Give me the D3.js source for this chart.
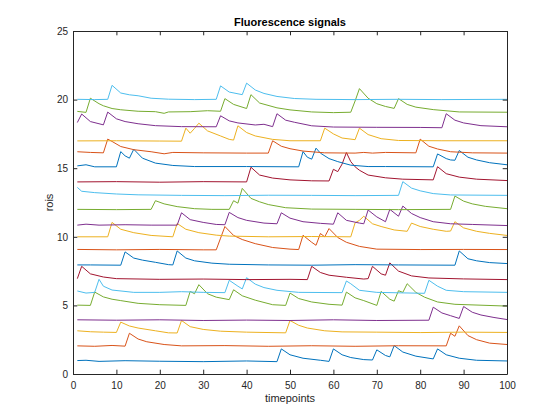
<!DOCTYPE html>
<html>
<head>
<meta charset="utf-8">
<script src="https://cdn.jsdelivr.net/npm/d3@7"></script>
<style>
  html, body { margin: 0; padding: 0; background: #fff; }
  svg { display: block; font-family: "Liberation Sans", Arial, Helvetica, sans-serif; }
</style>
</head>
<body>
<div id="chart"></div>
<script>
// Fluorescence traces, one per roi, as [timepoint, value] points
var roi1 = [[1,0.98],[3,1.0],[6,0.92],[12,0.97],[20,0.93],[30,0.9],[40,0.95],[47,0.9],[48,1.83],[50,1.4],[53,1.15],[57,1.0],[59,0.92],[60,1.83],[62,1.4],[64,1.2],[67,1.05],[69,1.02],[70,1.76],[72,1.35],[73,1.25],[74,2.07],[76,1.6],[79,1.3],[83,1.1],[84,1.83],[86,1.4],[89,1.15],[93,1.0],[100,0.95]];
var roi2 = [[1,2.05],[5,2.02],[9,2.08],[12,2.03],[13,2.97],[15,2.55],[17,2.35],[21,2.15],[25,2.05],[35,2.07],[45,2.02],[55,2.06],[65,2.02],[75,2.06],[86,2.05],[87,2.97],[88,2.75],[89,3.51],[91,2.8],[93,2.5],[96,2.25],[100,2.15]];
var roi3 = [[1,3.15],[4,3.08],[7,3.05],[10,3.03],[11,3.78],[13,3.5],[15,3.35],[19,3.15],[22,3.0],[24,2.99],[25,3.9],[27,3.45],[30,3.25],[34,3.12],[40,3.05],[49,3.0],[50,3.9],[52,3.55],[54,3.35],[58,3.15],[62,3.07],[70,3.05],[80,3.02],[90,3.05],[100,3.03]];
var roi4 = [[1,3.95],[10,3.92],[20,3.95],[30,3.9],[40,3.93],[50,3.9],[60,3.95],[70,3.9],[82,3.92],[83,4.87],[85,4.45],[87,4.25],[89,4.05],[90,4.92],[92,4.5],[94,4.3],[97,4.12],[100,3.97]];
var roi5 = [[1,5.02],[4,5.0],[5,5.97],[7,5.62],[9,5.45],[11,5.35],[15,5.15],[20,5.05],[26,5.0],[27,6.02],[28,5.85],[29,6.51],[31,5.85],[33,5.6],[36,5.42],[37,6.14],[39,5.7],[42,5.38],[46,5.05],[49,5.0],[50,5.9],[52,5.5],[55,5.25],[59,5.08],[62,5.02],[63,5.97],[65,5.55],[67,5.35],[70,5.0],[71,6.02],[73,5.45],[74,5.31],[75,6.07],[76,5.95],[77,6.58],[79,5.95],[81,5.6],[84,5.25],[88,5.08],[100,4.95]];
var roi6 = [[1,6.05],[3,5.9],[5,5.95],[6,6.9],[7,6.4],[9,6.12],[14,5.95],[20,5.95],[25,6.0],[30,5.95],[35,5.93],[36,6.83],[38,6.4],[39,6.2],[40,7.02],[42,6.55],[44,6.3],[47,6.1],[52,5.95],[62,5.93],[63,6.78],[64,6.58],[66,6.1],[70,5.95],[81,5.88],[82,6.83],[84,6.4],[86,6.1],[90,6.0],[100,5.95]];
var roi7 = [[1,6.95],[2,7.85],[4,7.3],[7,7.07],[10,6.95],[20,6.9],[30,6.92],[40,6.88],[50,6.9],[54,6.88],[55,7.85],[57,7.4],[59,7.2],[63,7.05],[67,6.92],[68,6.95],[69,7.85],[71,7.3],[72,7.2],[73,8.1],[75,7.5],[78,7.15],[82,7.0],[90,6.93],[100,6.88]];
var roi8 = [[1,7.95],[4,7.95],[11,7.93],[12,8.9],[14,8.45],[16,8.3],[19,8.14],[22,7.97],[23,7.95],[24,8.97],[26,8.45],[28,8.25],[32,8.08],[36,8.0],[45,7.95],[55,7.93],[65,7.97],[75,7.95],[88,7.93],[89,8.97],[91,8.4],[93,8.25],[96,8.12],[100,8.05]];
var roi9 = [[1,9.08],[10,9.05],[20,9.08],[30,9.05],[33,9.05],[34,9.9],[35,10.75],[37,10.1],[39,9.8],[42,9.5],[46,9.22],[50,9.1],[52,9.07],[53,10.11],[55,9.6],[56,9.38],[57,10.24],[58,10.0],[59,10.6],[61,9.95],[63,9.6],[66,9.3],[70,9.1],[80,9.07],[90,9.08],[100,9.07]];
var roi10 = [[1,10.0],[8,10.0],[9,11.05],[11,10.55],[14,10.3],[18,10.1],[23,10.0],[24,10.97],[26,10.55],[29,10.3],[33,10.12],[36,10.05],[45,10.0],[55,10.02],[64,10.0],[65,11.02],[66,11.2],[67,11.5],[69,10.95],[71,10.75],[74,10.5],[77,10.4],[78,11.0],[80,10.75],[83,10.55],[86,10.4],[87,10.42],[88,11.1],[90,10.65],[93,10.4],[96,10.25],[100,10.1]];
var roi11 = [[1,10.85],[3,10.92],[6,10.85],[12,10.88],[18,10.85],[24,10.85],[25,11.75],[27,11.25],[30,11.05],[33,10.9],[35,10.88],[36,11.78],[38,11.4],[40,11.2],[44,11.0],[47,10.95],[48,11.75],[50,11.36],[53,11.1],[57,10.98],[60,10.92],[61,11.75],[63,11.2],[66,11.0],[67,10.95],[68,11.95],[70,11.45],[72,11.1],[73,12.0],[75,11.5],[76,12.24],[78,11.7],[80,11.4],[83,11.1],[87,10.95],[92,10.9],[100,10.82]];
var roi12 = [[1,12.0],[10,11.98],[18,12.0],[19,12.63],[21,12.4],[24,12.2],[28,12.05],[32,12.0],[36,12.0],[37,12.63],[38,12.45],[39,13.53],[41,12.8],[43,12.55],[45,12.35],[49,12.12],[55,12.02],[65,12.0],[75,11.98],[87,12.0],[88,12.97],[90,12.6],[92,12.4],[95,12.22],[100,12.05]];
var roi13 = [[1,13.6],[2,13.32],[5,13.22],[10,13.12],[15,13.06],[25,13.02],[35,13.0],[45,13.03],[55,13.02],[65,13.0],[75,13.02],[76,14.02],[78,13.55],[80,13.35],[83,13.15],[87,13.05],[100,13.02]];
var roi14 = [[1,14.0],[10,14.02],[20,13.98],[30,14.02],[40,14.0],[41,15.07],[43,14.5],[46,14.28],[50,14.15],[55,14.08],[59,14.07],[60,14.92],[61,14.75],[62,15.3],[63,16.14],[64,15.48],[65,15.1],[66,14.85],[68,14.5],[72,14.3],[76,14.2],[83,14.15],[84,15.11],[86,14.6],[89,14.35],[93,14.2],[100,14.1]];
var roi15 = [[1,15.17],[3,15.25],[5,15.1],[10,15.1],[11,16.21],[12,15.9],[13,15.73],[14,16.38],[16,15.73],[19,15.37],[23,15.2],[28,15.12],[40,15.12],[52,15.1],[53,16.21],[54,15.8],[55,15.66],[56,16.46],[57,16.1],[59,15.7],[61,15.48],[64,15.22],[68,15.12],[72,15.12],[83,15.1],[84,16.04],[86,15.7],[87,15.6],[88,15.58],[89,16.29],[91,15.8],[93,15.6],[96,15.4],[100,15.25]];
var roi16 = [[1,16.2],[4,16.15],[7,16.12],[8,17.12],[9,16.95],[11,16.58],[14,16.35],[18,16.2],[21,16.05],[23,16.15],[30,16.12],[40,16.1],[45,16.1],[46,17.0],[48,16.6],[50,16.42],[53,16.25],[58,16.12],[65,16.1],[67,16.15],[69,16.1],[72,16.15],[79,16.12],[80,17.12],[82,16.6],[84,16.4],[87,16.2],[92,16.12],[100,16.1]];
var roi17 = [[1,16.99],[10,17.0],[20,16.98],[25,16.97],[26,17.92],[27,17.55],[28,17.9],[29,18.28],[31,17.72],[34,17.35],[36,17.1],[37,17.05],[38,18.09],[40,17.6],[42,17.35],[46,17.1],[50,17.0],[57,17.0],[58,17.92],[60,17.5],[62,17.2],[65,17.08],[66,17.92],[68,17.45],[71,17.15],[75,17.02],[85,17.0],[100,17.0]];
var roi18 = [[1,18.33],[2,18.95],[4,18.4],[7,18.16],[8,19.09],[10,18.6],[12,18.4],[15,18.24],[19,18.1],[25,18.03],[33,18.02],[34,18.82],[36,18.45],[38,18.3],[42,18.15],[44,18.2],[46,18.03],[47,18.97],[49,18.5],[51,18.35],[55,18.09],[60,18.0],[70,17.98],[80,17.97],[85,17.95],[86,18.97],[88,18.5],[90,18.3],[94,18.1],[100,18.02]];
var roi19 = [[1,19.14],[3,19.07],[4,20.1],[6,19.7],[7,19.55],[9,19.35],[11,19.26],[15,19.15],[19,19.12],[21,19.0],[22,19.1],[27,19.12],[31,19.19],[34,19.15],[35,20.07],[37,19.65],[40,19.35],[41,20.36],[43,19.75],[47,19.4],[50,19.25],[55,19.1],[60,19.05],[64,19.08],[65,19.9],[66,20.8],[68,20.1],[70,19.7],[72,19.5],[74,19.36],[75,20.07],[77,19.65],[79,19.45],[83,19.27],[89,19.1],[100,19.08]];
var roi20 = [[1,20.02],[5,20.0],[8,20.02],[9,21.04],[11,20.48],[13,20.35],[15,20.28],[18,20.1],[22,20.03],[28,20.0],[33,20.02],[34,21.0],[36,20.55],[39,20.36],[40,21.2],[42,20.7],[44,20.45],[47,20.23],[51,20.08],[56,20.02],[65,20.0],[75,20.02],[85,20.0],[100,20.02]];

var rois = [roi1, roi2, roi3, roi4, roi5, roi6, roi7, roi8, roi9, roi10,
            roi11, roi12, roi13, roi14, roi15, roi16, roi17, roi18, roi19, roi20];

// matlab default line colour order
var colorOrder = ["#0072BD", "#D95319", "#EDB120", "#7E2F8E", "#77AC30", "#4DBEEE", "#A2142F"];
var xTicks = [0, 10, 20, 30, 40, 50, 60, 70, 80, 90, 100];
var yTicks = [0, 5, 10, 15, 20, 25];

(function() {
    var W = 560, H = 420;
    var pLeft = 73, pRight = 507, pTop = 31, pBottom = 374;
    var axisColor = "#262626";
    var tick = 4.3;

    var svg = d3.select("#chart").append("svg")
        .attr("width", W)
        .attr("height", H);

    var x = d3.scaleLinear().domain([0, 100]).range([pLeft, pRight]);
    var y = d3.scaleLinear().domain([0, 25]).range([pBottom, pTop]);

    // traces first, the axes box goes over them
    var line = d3.line()
        .x(function(d) { return x(d[0]); })
        .y(function(d) { return y(d[1]); });

    svg.append("g").selectAll("path").data(rois).enter()
        .append("path")
        .attr("d", line)
        .attr("fill", "none")
        .attr("stroke", function(d, i) { return colorOrder[i % colorOrder.length]; })
        .attr("stroke-width", 1)
        .attr("stroke-linejoin", "round");

    var gx = svg.append("g")
        .attr("transform", "translate(0," + pBottom + ")")
        .call(d3.axisBottom(x).tickValues(xTicks).tickSizeInner(-tick).tickSizeOuter(0).tickPadding(8));
    var gy = svg.append("g")
        .attr("transform", "translate(" + pLeft + ",0)")
        .call(d3.axisLeft(y).tickValues(yTicks).tickSizeInner(-tick).tickSizeOuter(0).tickPadding(5));
    var gt = svg.append("g")
        .attr("transform", "translate(0," + pTop + ")")
        .call(d3.axisTop(x).tickValues(xTicks).tickSizeInner(-tick).tickSizeOuter(0).tickFormat(""));
    var gr = svg.append("g")
        .attr("transform", "translate(" + pRight + ",0)")
        .call(d3.axisRight(y).tickValues(yTicks).tickSizeInner(-tick).tickSizeOuter(0).tickFormat(""));

    [gx, gy, gt, gr].forEach(function(g) {
        g.selectAll("path, line").attr("stroke", axisColor);
        g.selectAll("text")
            .attr("fill", axisColor)
            .style("font-size", "10px")
            .style("font-family", "'Liberation Sans', Arial, Helvetica, sans-serif");
    });

    svg.append("text")
        .attr("x", (pLeft + pRight) / 2)
        .attr("y", 26)
        .attr("text-anchor", "middle")
        .style("font-size", "11px")
        .style("font-weight", "bold")
        .attr("fill", "#000")
        .text("Fluorescence signals");

    svg.append("text")
        .attr("x", (pLeft + pRight) / 2)
        .attr("y", 402)
        .attr("text-anchor", "middle")
        .style("font-size", "11px")
        .attr("fill", axisColor)
        .text("timepoints");

    svg.append("text")
        .attr("transform", "translate(53," + ((pTop + pBottom) / 2) + ") rotate(-90)")
        .attr("text-anchor", "middle")
        .style("font-size", "11px")
        .attr("fill", axisColor)
        .text("rois");
})();
</script>
</body>
</html>
